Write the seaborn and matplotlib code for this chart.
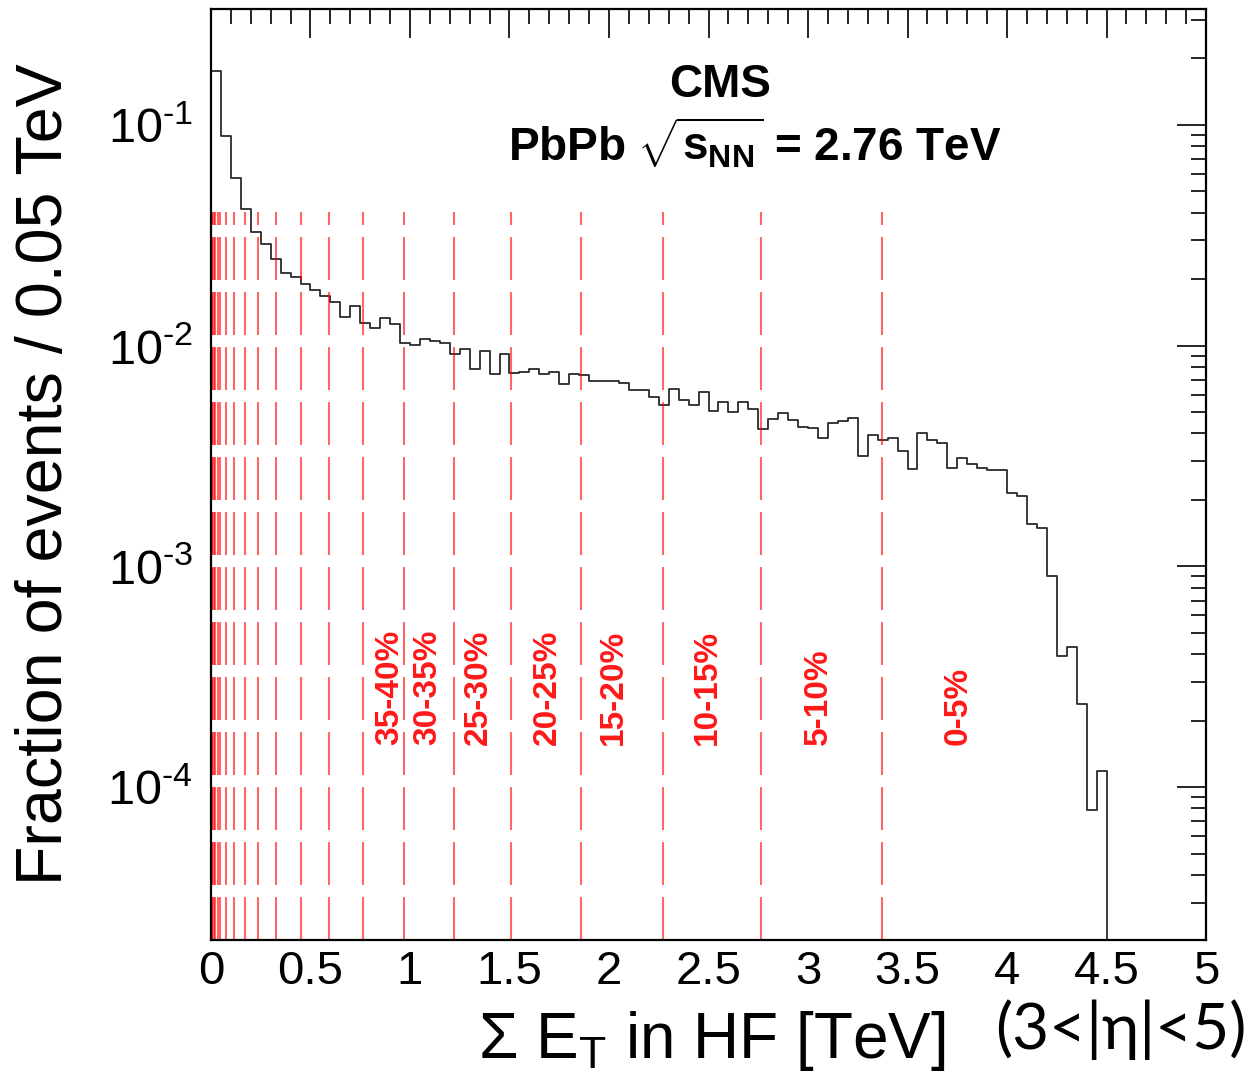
import numpy as np
import pandas as pd
import matplotlib
matplotlib.use('Agg')
import matplotlib.pyplot as plt
import seaborn as sns
from matplotlib.ticker import MultipleLocator, LogLocator, NullFormatter, FuncFormatter

# Fraction of events per 0.05 TeV bin, from 0 to 5 TeV
bin_width = 0.05
fraction = [
    0.176, 0.0892, 0.0575, 0.0416, 0.0328, 0.0288, 0.0247, 0.0214, 0.0204, 0.0190,
    0.0179, 0.0167, 0.0158, 0.0135, 0.0151, 0.0126, 0.0120, 0.0133, 0.0125, 0.01025,
    0.01007, 0.0107, 0.01054, 0.01025, 0.00914, 0.00966, 0.00782, 0.00946, 0.00744, 0.00914,
    0.00755, 0.00762, 0.00782, 0.00744, 0.00762, 0.00671, 0.00742, 0.00737, 0.00692, 0.00690,
    0.00688, 0.00676, 0.00630, 0.00630, 0.00587, 0.00539, 0.00635, 0.00568, 0.00539, 0.00619,
    0.00506, 0.00554, 0.00499, 0.00554, 0.00517, 0.00418, 0.00464, 0.00494, 0.00461, 0.00428,
    0.00422, 0.00381, 0.00448, 0.00457, 0.00469, 0.00317, 0.00394, 0.00374, 0.00381, 0.00333,
    0.00276, 0.00403, 0.00374, 0.00361, 0.00278, 0.00310, 0.00290, 0.00278, 0.00272, 0.00272,
    0.00215, 0.00209, 0.00155, 0.00149, 0.000902, 0.000393, 0.000433, 0.000238, 7.9e-5, 1.18e-4,
    0, 0, 0, 0, 0, 0, 0, 0, 0, 0,
]

# Centrality boundaries (TeV) and labels of the 5% classes
centrality_cuts = [0.003, 0.007, 0.013, 0.022, 0.033, 0.047, 0.074, 0.117, 0.169, 0.238,
                   0.327, 0.451, 0.594, 0.763, 0.972, 1.221, 1.509, 1.860, 2.272, 2.765, 3.374]
class_labels = ['35-40%', '30-35%', '25-30%', '20-25%', '15-20%', '10-15%', '5-10%', '0-5%']
class_label_x = [0.900, 1.087, 1.343, 1.690, 2.022, 2.495, 3.053, 3.752]

edges = [round(i * bin_width, 3) for i in range(len(fraction) + 1)]
df = pd.DataFrame({'et': [e + bin_width / 2 for e in edges[:-1]], 'frac': fraction})

sns.set_theme(style='white')
plt.rcParams['font.family'] = ['Liberation Sans', 'DejaVu Sans']
plt.rcParams['mathtext.fontset'] = 'custom'
plt.rcParams['mathtext.rm'] = 'Liberation Sans'
plt.rcParams['mathtext.it'] = 'Liberation Sans:italic'
plt.rcParams['mathtext.bf'] = 'Liberation Sans:bold'
for key in ['text.color', 'axes.labelcolor', 'xtick.color', 'ytick.color']:
    plt.rcParams[key] = 'black'

fig = plt.figure(figsize=(12.55, 10.74), dpi=100)
ax = fig.add_axes([0.1681, 0.1248, 0.7929, 0.8668])
ax.set_yscale('log')

# histogram outline
sns.histplot(data=df, x='et', weights='frac', bins=edges, element='step', fill=False,
             color='#2a2a2a', linewidth=1.3, ax=ax)

ymin, ymax = 2.03e-5, 0.335
ax.set_xlim(0, 5)
ax.set_ylim(ymin, ymax)

# centrality cut lines
ax.vlines(centrality_cuts, ymin, 0.0404, colors='red', alpha=0.6, linewidth=1.5,
          linestyles=[(0, (20.6, 5.8))])
for lab, xl in zip(class_labels, class_label_x):
    ax.text(xl, 1.55e-4, lab, rotation=90, ha='center', va='bottom', color='red',
            fontweight='bold', fontsize=24, alpha=0.9)

# texts
ax.text(0.512, 0.9056, 'CMS', transform=ax.transAxes, ha='center', va='baseline',
        fontsize=33, fontweight='bold')
ax.text(0.546, 0.8378, r'PbPb $\sqrt{\mathbf{s}_{\mathbf{NN}}}$ = 2.76 TeV', transform=ax.transAxes,
        ha='center', va='baseline', fontsize=33, fontweight='bold')

# axes style
for s in ax.spines.values():
    s.set_color('black')
    s.set_linewidth(1.6)
ax.xaxis.set_major_locator(MultipleLocator(0.5))
ax.xaxis.set_minor_locator(MultipleLocator(0.1))
ax.xaxis.set_major_formatter(FuncFormatter(lambda v, p: f'{v:g}'))
ax.yaxis.set_major_locator(LogLocator(base=10, numticks=20))
ax.yaxis.set_minor_locator(LogLocator(base=10, subs=np.arange(2, 10), numticks=20))
ax.yaxis.set_major_formatter(FuncFormatter(
    lambda v, p: r'$10^{\text{-}%d}$' % round(-np.log10(v))))
ax.yaxis.set_minor_formatter(NullFormatter())
ax.tick_params(which='both', direction='in', top=True, right=True, color='black', width=1.2)
ax.tick_params(which='major', length=21)
ax.tick_params(which='minor', length=10.5)
ax.tick_params(axis='x', which='major', labelsize=34, pad=7)
ax.tick_params(axis='y', which='major', labelsize=35, pad=13)

ax.set_ylabel('Fraction of events / 0.05 TeV', fontsize=46.5)
ax.yaxis.set_label_coords(-0.137, 0.5)
ax.set_xlabel(r'$\Sigma$ E$_{\rm T}$ in HF [TeV]', fontsize=46)
ax.xaxis.label.set_ha('right')
ax.xaxis.label.set_va('baseline')
ax.xaxis.set_label_coords(0.738, -0.1267)

fig.text(0.793, 0.041, '(3<|η|<5)', ha='left', va='center', fontsize=46,
         family=['Lato', 'DejaVu Sans'])

fig.savefig('out.png', dpi=100)
